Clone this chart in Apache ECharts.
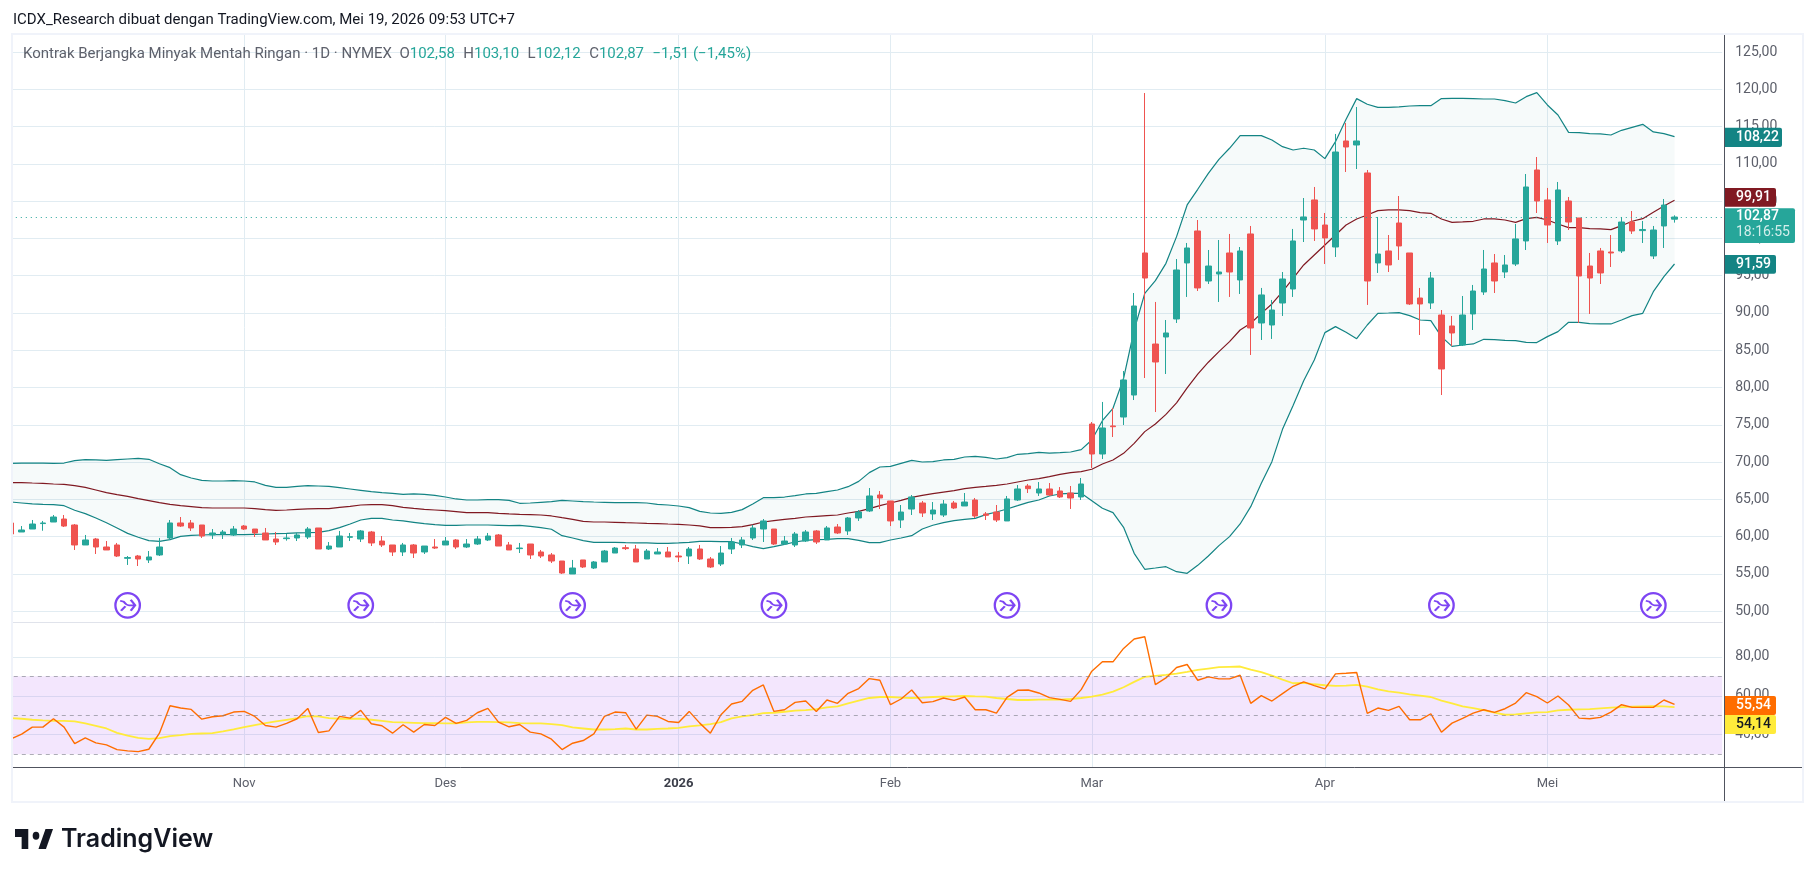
<!DOCTYPE html>
<html><head><meta charset="utf-8">
<style>html,body{margin:0;padding:0;background:#fff}#c{width:1814px;height:877px}</style>
<script src="https://cdn.jsdelivr.net/npm/echarts@6/dist/echarts.min.js"></script>
</head><body><div id="c"></div>
<script>
const tradingDays = [
'2025-10-02','2025-10-03','2025-10-06','2025-10-07','2025-10-08','2025-10-09','2025-10-10','2025-10-13','2025-10-14','2025-10-15','2025-10-16','2025-10-17','2025-10-20','2025-10-21','2025-10-22','2025-10-23','2025-10-24','2025-10-27','2025-10-28','2025-10-29','2025-10-30','2025-10-31',
'2025-11-03','2025-11-04','2025-11-05','2025-11-06','2025-11-07','2025-11-10','2025-11-11','2025-11-12','2025-11-13','2025-11-14','2025-11-17','2025-11-18','2025-11-19','2025-11-20','2025-11-21','2025-11-24','2025-11-25','2025-11-26','2025-11-28',
'2025-12-01','2025-12-02','2025-12-03','2025-12-04','2025-12-05','2025-12-08','2025-12-09','2025-12-10','2025-12-11','2025-12-12','2025-12-15','2025-12-16','2025-12-17','2025-12-18','2025-12-19','2025-12-22','2025-12-23','2025-12-24','2025-12-26','2025-12-29','2025-12-30','2025-12-31',
'2026-01-02','2026-01-05','2026-01-06','2026-01-07','2026-01-08','2026-01-09','2026-01-12','2026-01-13','2026-01-14','2026-01-15','2026-01-16','2026-01-20','2026-01-21','2026-01-22','2026-01-23','2026-01-26','2026-01-27','2026-01-28','2026-01-29','2026-01-30',
'2026-02-02','2026-02-03','2026-02-04','2026-02-05','2026-02-06','2026-02-09','2026-02-10','2026-02-11','2026-02-12','2026-02-13','2026-02-17','2026-02-18','2026-02-19','2026-02-20','2026-02-23','2026-02-24','2026-02-25','2026-02-26','2026-02-27',
'2026-03-02','2026-03-03','2026-03-04','2026-03-05','2026-03-06','2026-03-09','2026-03-10','2026-03-11','2026-03-12','2026-03-13','2026-03-16','2026-03-17','2026-03-18','2026-03-19','2026-03-20','2026-03-23','2026-03-24','2026-03-25','2026-03-26','2026-03-27','2026-03-30','2026-03-31',
'2026-04-01','2026-04-02','2026-04-06','2026-04-07','2026-04-08','2026-04-09','2026-04-10','2026-04-13','2026-04-14','2026-04-15','2026-04-16','2026-04-17','2026-04-20','2026-04-21','2026-04-22','2026-04-23','2026-04-24','2026-04-27','2026-04-28','2026-04-29','2026-04-30',
'2026-05-01','2026-05-04','2026-05-05','2026-05-06','2026-05-07','2026-05-08','2026-05-11','2026-05-12','2026-05-13','2026-05-14','2026-05-15','2026-05-18','2026-05-19',
'2026-05-20','2026-05-21','2026-05-22','2026-05-26'];

const monthTicks = {'2025-11-03':'Nov','2025-12-01':'Des','2026-01-02':'2026','2026-02-02':'Feb','2026-03-02':'Mar','2026-04-01':'Apr','2026-05-01':'Mei'};
const priceTicks = [50,55,60,65,70,75,80,85,90,95,100,105,110,115,120,125];
const rsiTicks = [40,60,80];
const rsiLevels = [70,50,30];
const eventDays = ['2025-10-17','2025-11-18','2025-12-17','2026-01-15','2026-02-18','2026-03-18','2026-04-17','2026-05-15'];

const opens = [61.84,60.63,61.03,61.76,61.97,62.37,61.57,58.89,59.69,58.62,
58.89,57.1,57.41,56.88,57.55,59.83,61.84,61.84,61.57,60.23,
60.36,60.23,61.43,61.03,60.5,59.69,59.74,59.83,59.96,61.17,
58.35,58.62,59.92,59.69,60.63,59.42,58.89,57.95,58.89,57.95,
58.62,58.89,59.56,58.62,59.02,59.56,60.23,58.89,58.4,59.02,
57.95,57.55,56.74,55.0,56.88,55.8,56.61,57.81,58.53,58.35,
57.01,57.68,57.95,57.41,57.41,58.35,57.01,56.34,58.35,58.89,
59.83,61.03,61.03,59.02,58.89,59.42,60.77,59.56,61.3,60.77,
62.51,63.45,65.59,64.79,62.24,63.71,64.52,63.05,62.91,64.52,
64.12,64.92,63.05,63.31,62.11,64.92,66.8,65.86,66.4,66.13,
65.86,65.33,75.11,71.09,74.85,76.05,79.0,98.05,85.84,86.78,
89.2,96.71,101,94.29,95.23,98.05,94.43,100.6,88.66,88.39,
91.34,93.22,102.47,105.16,101.8,98.85,113.07,112.53,108.78,96.71,
98.32,102.07,98.05,92.01,91.34,89.73,88.26,85.71,89.87,92.82,
96.71,95.5,96.57,99.66,109.18,105.16,99.66,105.02,102.74,96.3,
98.32,98.18,98.32,102.2,101.05,97.65,101.67,102.58];
const closes = [60.36,60.9,61.7,61.84,62.64,61.43,58.89,59.56,58.62,58.22,
57.41,57.2,57.01,57.28,58.62,61.84,61.43,61.17,60.09,60.5,
60.63,61.03,61.03,60.5,59.56,59.29,59.83,60.23,61.03,58.35,
58.75,60.09,60.0,60.77,59.16,58.89,57.95,58.89,57.81,58.75,
58.48,59.42,58.62,59.02,59.69,60.09,58.75,58.22,58.48,57.55,
57.41,56.74,55.13,55.8,55.94,56.61,58.08,58.48,58.4,56.61,
58.08,57.95,57.28,57.28,58.35,57.01,55.94,57.81,59.29,59.56,
61.17,62.11,59.02,59.42,60.36,60.63,59.29,61.17,60.5,62.51,
63.31,65.46,65.19,62.11,63.31,65.33,63.18,63.58,64.38,63.85,
64.65,62.78,62.87,62.24,65.06,66.4,66.44,66.4,65.59,65.33,
65.19,67.07,71.09,74.58,74.75,81.02,90.94,94.69,83.43,87.32,
95.77,98.72,93.36,96.3,95.5,95.5,98.32,87.99,92.42,90.4,
94.56,99.66,102.88,101.27,100.06,111.59,112.26,113.07,94.29,97.91,
96.44,98.99,91.21,91.21,94.69,82.49,87.32,89.73,92.95,95.9,
94.29,96.44,99.93,106.9,105.02,101.8,106.5,102.2,94.96,94.69,
95.37,98.05,102.2,101,101.2,101.13,104.48,102.87];
const lows = [60.2,60.63,61.03,60.8,61.97,61.3,58.22,58.89,57.68,58.22,
57.28,56.21,56.07,56.47,57.41,59.56,61.3,60.77,59.83,59.69,
59.69,60.09,60.9,59.96,59.56,58.89,59.47,59.42,59.69,58.35,
58.22,58.62,59.42,59.29,58.75,58.62,57.41,57.41,57.14,57.68,
58.35,58.89,58.35,58.48,58.89,59.42,58.75,58.22,57.81,57.01,
57.14,56.47,55.0,55.0,55.8,55.67,56.61,57.81,58.22,56.61,
57.01,57.68,57.28,56.61,56.34,56.88,55.8,56.07,57.68,58.48,
59.56,59.29,58.89,58.89,58.62,59.29,59.02,59.56,60.36,60.23,
62.11,63.31,63.71,61.43,61.17,62.91,62.64,62.24,62.64,63.71,
64.12,62.51,62.24,61.97,62.11,64.79,65.86,65.46,65.46,65.19,
63.72,64.92,69.21,70.42,73.37,74.98,78.33,81.28,76.72,81.82,
88.66,92.15,92.95,93.89,91.48,92.15,92.55,84.37,86.38,86.52,
89.6,92.15,99.52,99.66,96.57,97.51,108.91,109.31,91.08,95.37,
95.5,97.11,91.08,87.05,90.54,79.0,85.58,85.58,87.72,92.42,
92.68,94.69,96.3,98.45,103.41,99.39,99.12,101.13,88.66,89.87,
93.89,96.17,98.05,100.6,99.39,97.24,98.72,102.12];
const highs = [61.84,61.43,62.24,62.11,62.91,62.91,61.7,60.23,59.83,59.42,
59.16,57.41,57.55,58.08,59.83,62.24,62.64,62.24,61.57,61.03,
60.9,61.43,61.57,61.03,61.17,60.63,60.36,60.5,61.3,61.17,
59.29,60.77,60.5,60.9,60.77,60.09,58.89,59.16,59.02,58.75,
59.69,59.96,59.69,59.69,60.09,60.5,60.36,59.29,59.16,59.02,
58.22,57.81,56.74,56.88,56.88,56.74,58.22,58.62,58.89,58.89,
58.35,58.48,58.62,57.95,58.62,58.89,57.28,58.75,59.83,59.96,
61.57,62.37,61.03,60.09,60.63,60.9,60.9,61.43,61.7,62.64,
63.58,66.53,66.13,64.79,64.25,65.59,64.79,64.65,64.92,64.79,
65.86,65.19,63.31,64.25,65.46,66.93,67.07,67.33,67.2,66.66,
66.8,67.87,75.38,78.07,77.26,82.22,92.68,119.5,91.48,89.06,
97.24,99.39,102.47,98.45,99.79,100.6,98.85,101.67,93.36,91.75,
95.5,101.27,105.42,106.9,103.41,114.01,115.48,117.63,109.18,102.88,
100.46,105.69,98.05,93.36,95.5,90.4,89.6,92.28,93.76,98.45,
97.91,97.78,101.94,108.64,110.92,106.77,107.57,105.56,102.74,98.05,
98.72,100.46,102.88,103.68,102.34,101.67,105.29,103.10];

const bbUpper = [69.84,69.88,69.88,69.88,69.84,69.88,70.2,70.33,70.29,70.24,
70.33,70.42,70.51,70.38,69.79,69.26,68.32,67.87,67.56,67.47,
67.47,67.51,67.47,67.34,66.89,66.62,66.62,66.75,66.84,66.8,
66.75,66.58,66.4,66.22,66.04,65.9,65.82,65.68,65.73,65.68,
65.55,65.32,65.06,64.92,64.92,64.97,64.97,64.88,64.48,64.52,
64.61,64.7,64.88,64.79,64.7,64.65,64.61,64.56,64.56,64.56,
64.52,64.34,64.25,64.12,63.89,63.4,63.18,63.13,63.27,63.63,
64.39,65.23,65.23,65.32,65.5,65.73,65.82,66.04,66.26,66.71,
67.42,68.59,69.35,69.44,69.84,70.24,70.02,70.06,70.29,70.38,
70.69,70.78,70.64,70.42,70.6,71.05,71.14,71.31,71.22,71.27,
71.36,71.67,72.97,75.56,77.22,81.24,87.72,92.64,94.34,96.66,
100.24,104.49,106.59,108.73,110.61,112.09,113.78,113.78,113.78,113.2,
112.31,111.86,112.09,111.86,110.7,112.98,115.97,118.75,117.99,117.58,
117.58,117.63,117.76,117.81,117.81,118.75,118.79,118.79,118.75,118.7,
118.7,118.48,118.16,119.01,119.55,117.9,116.56,114.23,114.19,114.05,
114.01,113.87,114.5,114.9,115.3,114.28,114.05,113.65];
const bbBasis = [67.25,67.25,67.2,67.16,67.07,67.02,66.84,66.62,66.26,65.9,
65.64,65.41,65.1,64.83,64.56,64.34,64.16,64.03,63.89,63.85,
63.85,63.85,63.85,63.76,63.63,63.54,63.58,63.67,63.72,63.76,
63.76,63.94,64.07,64.25,64.3,64.3,64.16,63.94,63.8,63.67,
63.58,63.49,63.36,63.22,63.22,63.22,63.13,63.05,63.0,62.96,
62.91,62.78,62.55,62.33,62.06,61.97,61.97,61.93,61.88,61.84,
61.79,61.75,61.7,61.66,61.57,61.44,61.21,61.21,61.26,61.35,
61.61,61.97,62.15,62.33,62.46,62.64,62.73,62.82,62.91,63.18,
63.4,63.76,64.16,64.52,64.88,65.28,65.55,65.77,65.99,66.17,
66.44,66.62,66.75,66.89,67.07,67.34,67.6,67.78,68.05,68.36,
68.59,68.72,69.04,69.75,70.29,71.18,72.52,74.09,75.12,76.4,
77.95,79.95,81.8,83.4,84.82,86.16,87.72,88.62,89.95,91.21,
92.86,94.65,96.44,97.78,99.12,100.46,101.8,102.61,103.14,103.73,
103.82,103.82,103.73,103.46,103.37,102.61,102.16,102.21,102.3,102.61,
102.61,102.47,102.16,102.65,102.83,102.47,101.94,101.45,101.45,101.31,
101.27,101.18,101.71,102.3,102.65,103.5,104.35,105.11];
const bbLower = [64.65,64.52,64.39,64.34,64.3,64.16,63.54,63.09,62.51,61.88,
61.17,60.45,59.92,59.47,59.38,59.6,60.05,60.18,60.23,60.27,
60.27,60.27,60.27,60.32,60.36,60.41,60.45,60.5,60.54,60.59,
60.81,61.21,61.7,62.24,62.46,62.46,62.24,62.11,61.93,61.75,
61.61,61.53,61.53,61.57,61.57,61.57,61.53,61.48,61.53,61.39,
61.21,61.0,60.14,59.83,59.47,59.25,59.25,59.25,59.2,59.16,
59.16,59.11,59.11,59.16,59.25,59.38,59.38,59.33,59.33,59.02,
58.66,58.4,58.66,58.98,59.29,59.51,59.6,59.65,59.74,59.74,
59.51,59.2,59.2,59.56,59.83,60.14,61.03,61.53,61.88,62.15,
62.33,62.46,62.96,63.31,63.72,64.16,64.61,64.92,65.46,65.73,
65.82,65.82,64.83,63.81,63.23,61.26,57.77,55.63,55.8,55.98,
55.31,55.09,56.16,57.41,58.8,60.01,61.71,64.03,67.16,70.06,
74.4,77.6,80.9,83.7,87.37,88.17,87.41,86.56,88.39,89.96,
90.0,90.05,89.65,89.06,88.97,86.83,85.53,85.71,85.85,86.47,
86.43,86.34,86.29,86.07,86.03,86.83,87.5,88.75,88.75,88.57,
88.53,88.53,89.06,89.65,89.96,92.86,94.88,96.57];

const rsi = [37.9,40.29,43.9,43.9,48.2,43.9,35.48,38.4,35.82,34.79,
32.39,31.7,31.36,32.56,40.8,54.9,53.7,53.0,48.0,49.2,
49.74,51.63,51.97,49.4,44.76,43.9,45.8,48.2,53.52,41.15,
42.0,49.4,48.54,52.49,45.62,44.59,40.8,45.1,41.32,45.27,
44.76,48.88,45.8,47.34,51.29,53.52,46.48,44.07,45.27,41.32,
40.46,37.71,32.38,35.65,37.02,40.46,49.4,51.63,51.29,42.87,
50.08,49.4,46.82,46.3,51.97,45.96,40.8,50.26,55.75,57.13,
62.8,65.55,51.97,52.83,56.61,57.3,51.97,57.82,56.1,61.25,
63.66,68.81,67.95,55.41,58.33,62.97,56.44,56.96,58.85,57.64,
59.36,52.83,52.83,51.11,59.19,62.8,62.97,61.43,59.02,58.16,
57.13,63.14,72.59,77.41,77.41,84.28,89.09,90.29,65.72,69.16,
74.48,76.03,67.96,69.67,68.64,68.64,70.53,56.1,60.05,57.3,
61.08,64.86,67.1,65.21,63.49,71.22,71.56,71.91,50.95,53.7,
52.49,54.55,47.68,47.68,50.77,41.32,45.96,48.36,51.11,52.83,
51.46,53.35,56.27,61.59,59.53,56.27,59.88,55.24,48.54,48.19,
48.88,51.63,55.41,54.03,54.03,54.03,57.81,55.54];
const rsiMa = [48.54,48.2,47.68,47.34,47.16,47.16,46.82,45.79,44.59,43.21,
40.98,39.6,38.4,37.89,38.23,39.26,39.78,40.46,40.63,40.81,
41.67,42.7,43.9,44.93,45.96,46.82,47.68,48.54,49.57,49.4,
48.54,48.2,48.2,48.2,47.68,47.16,46.48,46.3,46.13,45.96,
45.96,45.79,45.79,46.3,46.65,46.65,46.48,46.3,45.96,45.79,
45.79,45.44,44.93,43.73,43.21,42.69,42.69,42.87,43.21,42.69,
42.69,43.04,43.21,43.55,44.24,44.76,45.44,46.47,48.36,49.4,
50.08,51.11,51.29,51.8,52.32,52.66,53.18,54.03,54.55,56.1,
57.47,58.85,59.36,59.36,59.02,58.85,59.02,59.36,59.53,59.7,
59.88,59.7,59.53,58.85,58.33,57.82,57.82,57.99,57.99,57.99,
58.33,58.85,59.54,60.57,62.11,64.35,67.1,69.67,70.19,70.7,
71.39,72.25,73.28,73.97,74.66,74.83,75.0,73.45,72.08,70.36,
68.3,66.41,66.58,65.89,65.38,65.03,65.21,65.55,64.69,63.32,
62.29,61.6,60.74,60.05,59.36,57.47,56.1,54.55,53.69,52.66,
51.29,50.25,50.43,50.94,51.46,51.63,52.49,52.83,53.0,53.18,
53.52,53.86,54.2,54.38,54.55,54.72,54.55,54.14];

const chartTitle = 'ICDX_Research dibuat dengan TradingView.com, Mei 19, 2026 09:53 UTC+7';
const symbolName = 'Kontrak Berjangka Minyak Mentah Ringan · 1D · NYMEX';
const ohlcLegend = [['O','102,58'],['H','103,10'],['L','102,12'],['C','102,87']];
const changeLegend = '−1,51 (−1,45%)';
const lastClose = 102.87;

const UP='#26a69a', DOWN='#ef5350', BAND='#138484', BASIS='#801922', GRID='#e1ecf2', FRAME='#f0f3fa', AXIS='#50535e', LABEL='#5d606b', FONT='Roboto, sans-serif', ICON='#5e17f0';
const bandSpan = bbUpper.map((u,i)=>+(u-bbLower[i]).toFixed(2));
const fmt = v => v.toFixed(2).replace('.',',');
const lineBase = {type:'line',symbol:'none',showSymbol:false,silent:true,animation:false,smooth:false};
const noAxis = {axisLine:{show:false},axisTick:{show:false}};
const eventPts = eventDays.map(d=>[d,50.8]);
const arrowGlyph = 'path://M0 2 L4 3 Q7 7 10 7 L17 7 M12 1 L17 7 L12 13 M1 13 L6 8';

const ohlcRich = ohlcLegend.map(p=>`{g|${p[0]}}{v|${p[1]}}`).join('{s|  }');

const chart = echarts.init(document.getElementById('c'),null,{renderer:'canvas'});
const G = {left:5.8,width:1716.4};
chart.setOption({
 animation:false,
 backgroundColor:'#fff',
 title:[
  {text:chartTitle,left:13,top:12,padding:0,textStyle:{fontFamily:FONT,fontSize:15,fontWeight:400,color:'#131722',lineHeight:16}},
  {text:`{g|${symbolName}  }${ohlcRich}{s|  }{v|${changeLegend}}`,left:23,top:46,padding:0,textStyle:{fontWeight:400,rich:{
    g:{fontFamily:FONT,fontSize:15,fontWeight:400,color:'#5d606b',lineHeight:16},
    s:{fontFamily:FONT,fontSize:17,fontWeight:400,color:'#5d606b',lineHeight:16},
    v:{fontFamily:FONT,fontSize:15,fontWeight:400,color:UP,lineHeight:16}}}}
 ],
 grid:[
  {left:G.left,width:G.width,top:33,height:589.3,show:false},
  {left:G.left,width:G.width,top:622.3,height:144.7,show:false}
 ],
 xAxis:[
  {type:'category',gridIndex:0,data:tradingDays,boundaryGap:true,
   axisLine:{show:true,lineStyle:{color:'#e0e3eb',width:1}},axisLabel:{show:false},
   axisTick:{show:false,alignWithLabel:true,customValues:Object.keys(monthTicks)},
   splitLine:{show:true,alignWithLabel:true,lineStyle:{color:GRID,width:1}}},
  {type:'category',gridIndex:1,data:tradingDays,boundaryGap:true,
   axisLine:{show:false},
   axisTick:{show:false,alignWithLabel:true,customValues:Object.keys(monthTicks)},
   splitLine:{show:true,alignWithLabel:true,lineStyle:{color:GRID,width:1}},
   axisLabel:{show:true,customValues:Object.keys(monthTicks),margin:10,alignWithLabel:true,
     fontFamily:FONT,fontSize:13,color:LABEL,
     formatter:v=>monthTicks[v]==='2026'?'{b|2026}':monthTicks[v],
     rich:{b:{fontFamily:FONT,fontSize:13,fontWeight:700,color:'#3c3f4a'}}}}
 ],
 yAxis:[
  {type:'value',gridIndex:0,position:'right',min:48.52,max:127.55,scale:true,...noAxis,
   axisTick:{show:false,customValues:priceTicks},
   axisLabel:{customValues:priceTicks,margin:13,fontFamily:FONT,fontSize:14,color:LABEL,formatter:fmt,showMinLabel:true,showMaxLabel:true},
   splitLine:{show:true,lineStyle:{color:GRID,width:1}}},
  {type:'value',gridIndex:1,position:'right',min:23.45,max:97.68,scale:true,...noAxis,
   axisTick:{show:false,customValues:rsiTicks},
   axisLabel:{customValues:rsiTicks,margin:13,fontFamily:FONT,fontSize:14,color:LABEL,formatter:fmt},
   splitLine:{show:true,lineStyle:{color:GRID,width:1}}}
 ],
 series:[
  {...lineBase,name:'bb-base',data:bbLower,stack:'bb',lineStyle:{opacity:0},z:2},
  {...lineBase,name:'bb-fill',data:bandSpan,stack:'bb',lineStyle:{opacity:0},areaStyle:{color:'rgba(19,132,132,0.055)'},z:2},
  {...lineBase,name:'bb-upper',data:bbUpper,lineStyle:{color:BAND,width:1.2},z:3},
  {...lineBase,name:'bb-lower',data:bbLower,lineStyle:{color:BAND,width:1.2},z:3},
  {...lineBase,name:'bb-basis',data:bbBasis,lineStyle:{color:BASIS,width:1.2},z:3},
  {type:'candlestick',name:'CL1!',barWidth:6,z:4,silent:true,clip:true,
   data:opens.map((o,i)=>[o,closes[i],lows[i],highs[i]]),
   itemStyle:{color:UP,color0:DOWN,borderColor:UP,borderColor0:DOWN,borderWidth:1,borderColorDoji:UP},
   markLine:{silent:true,symbol:'none',animation:false,label:{show:false},
     lineStyle:{color:UP,type:[1,4],width:1},data:[{yAxis:lastClose}]}},
  {type:'scatter',name:'events',data:eventPts,symbol:'circle',symbolSize:24.5,silent:true,z:5,
   itemStyle:{color:'#fff',borderColor:ICON,borderWidth:2.3}},
  {type:'scatter',name:'events-glyph',data:eventPts,symbol:arrowGlyph,symbolSize:[15,11],silent:true,z:6,
   itemStyle:{color:'rgba(0,0,0,0)',borderColor:ICON,borderWidth:2}},
  {...lineBase,name:'RSI',xAxisIndex:1,yAxisIndex:1,data:rsi,lineStyle:{color:'#ff6d00',width:1.4},z:4,
   markArea:{silent:true,animation:false,itemStyle:{color:'rgba(170,80,240,0.14)'},data:[[{yAxis:30},{yAxis:70}]]},
   markLine:{silent:true,symbol:'none',animation:false,label:{show:false},
     lineStyle:{color:'rgba(120,123,134,0.6)',type:[4,4],width:1},data:rsiLevels.map(v=>({yAxis:v}))}},
  {...lineBase,name:'RSI MA',xAxisIndex:1,yAxisIndex:1,data:rsiMa,lineStyle:{color:'#ffeb3b',width:1.8},z:3}
 ],
 graphic:[
  {type:'rect',z:50,silent:true,shape:{x:0,y:33,width:13,height:770},style:{fill:'#fff'}},
  {type:'rect',z:51,silent:true,shape:{x:12,y:34,width:1791,height:768},style:{fill:'none',stroke:FRAME,lineWidth:2}},
  {type:'line',z:52,silent:true,shape:{x1:1724.5,y1:35,x2:1724.5,y2:801},style:{stroke:AXIS,lineWidth:1}},
  {type:'line',z:52,silent:true,shape:{x1:13,y1:767.5,x2:1802,y2:767.5},style:{stroke:AXIS,lineWidth:1}},
  ...[
   {t:'108,22',x:1725,y:127.7,w:57,h:19.3,bg:BAND,c:'#fff'},
   {t:'99,91',x:1725,y:188,w:51,h:18.7,bg:BASIS,c:'#fff'},
   {t:'91,59',x:1725,y:255,w:51,h:18.7,bg:BAND,c:'#fff'},
   {t:'55,54',x:1725,y:696,w:51,h:19,bg:'#ff6d00',c:'#fff'},
   {t:'54,14',x:1725,y:715,w:51,h:19,bg:'#ffeb3b',c:'#131722'}
  ].flatMap(b=>[
   {type:'rect',z:60,silent:true,shape:{x:b.x,y:b.y,width:b.w,height:b.h,r:[0,2,2,0]},style:{fill:b.bg}},
   {type:'text',z:61,silent:true,style:{x:b.x+11,y:b.y+b.h/2,text:b.t,fill:b.c,font:'500 14px '+FONT,textVerticalAlign:'middle'}}
  ]),
  {type:'rect',z:60,silent:true,shape:{x:1725,y:208.3,width:70,height:34.7,r:[0,2,2,0]},style:{fill:UP}},
  {type:'text',z:61,silent:true,style:{x:1736,y:216.5,text:'102,87',fill:'#fff',font:'500 14px '+FONT,textVerticalAlign:'middle'}},
  {type:'text',z:61,silent:true,style:{x:1736,y:232.5,text:'18:16:55',fill:'#d3eeeb',font:'400 14px '+FONT,textVerticalAlign:'middle'}},
  {type:'group',z:61,silent:true,x:12.8,y:821,scaleX:1.105,scaleY:1.333,children:[
    {type:'polygon',silent:true,shape:{points:[[2,6],[14,6],[14,21],[8,21],[8,12],[2,12]]},style:{fill:'#131722'}},
    {type:'polygon',silent:true,shape:{points:[[23.2,21],[29.6,6],[36.4,6],[30,21]]},style:{fill:'#131722'}},
    {type:'circle',silent:true,shape:{cx:21,cy:11,r:3},style:{fill:'#131722'}}
  ]},
  {type:'text',z:61,silent:true,style:{x:61,y:839.5,text:'TradingView',fill:'#131722',font:'600 25px Inter, sans-serif',textVerticalAlign:'middle'}}
 ]
});
</script></body></html>
